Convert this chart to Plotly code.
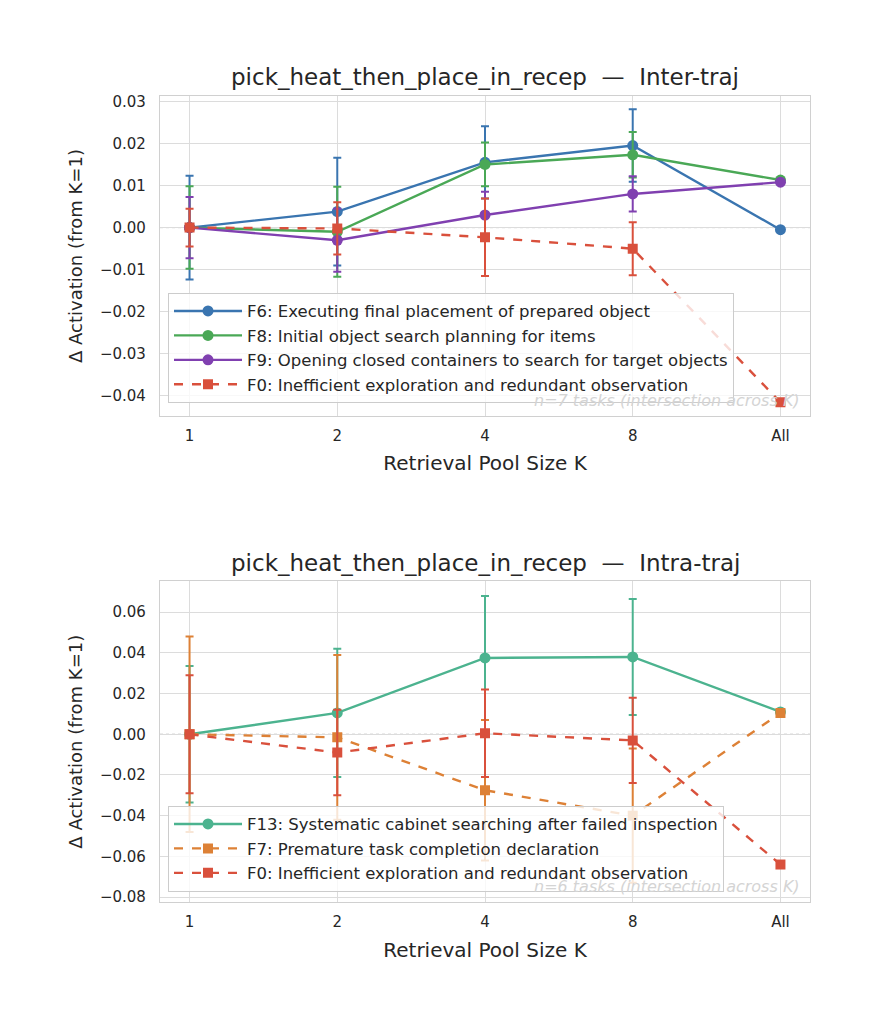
import plotly.graph_objects as go

K_LABELS = ["1", "2", "4", "8", "All"]

# Inter-traj
INTER_NAMES = [
    "F6: Executing final placement of prepared object",
    "F8: Initial object search planning for items",
    "F9: Opening closed containers to search for target objects",
    "F0: Inefficient exploration and redundant observation",
]
F6_inter = [0.0, 0.0038, 0.0155, 0.0195, -0.0005]
F6_inter_err = [0.0123, 0.0128, 0.0086, 0.0086, None]
F8_inter = [0.0, -0.001, 0.015, 0.0173, 0.0113]
F8_inter_err = [0.0098, 0.0107, 0.0052, 0.0054, None]
F9_inter = [0.0, -0.003, 0.003, 0.008, 0.0108]
F9_inter_err = [0.0073, 0.0075, 0.0055, 0.0042, None]
F0_inter = [0.0, -0.0002, -0.0023, -0.005, -0.0415]
F0_inter_err = [0.0045, 0.0062, 0.0092, 0.0063, None]

# Intra-traj
INTRA_NAMES = [
    "F13: Systematic cabinet searching after failed inspection",
    "F7: Premature task completion declaration",
    "F0: Inefficient exploration and redundant observation",
]
F13_intra = [0.0, 0.0105, 0.0375, 0.038, 0.011]
F13_intra_err = [0.0335, 0.0315, 0.0305, 0.0285, None]
F7_intra = [0.0, -0.0015, -0.0275, -0.040, 0.0105]
F7_intra_err = [0.048, 0.0405, 0.0345, 0.033, None]
F0_intra = [0.0, -0.009, 0.0005, -0.003, -0.064]
F0_intra_err = [0.029, 0.021, 0.0215, 0.021, None]

BLUE = "#3a75b0"
GREEN = "#4aa856"
PURPLE = "#8040b0"
RED = "#d9503c"
TEAL = "#4cb38f"
ORANGE = "#dd8136"

fig = go.Figure()


def add_series(y, err, name, color, dashed, xa, ya, legend):
    errs = [e if e is not None else 0 for e in err]
    fig.add_trace(go.Scatter(
        x=K_LABELS, y=y, name=name, mode="lines+markers",
        line=dict(color=color, width=2.4, dash="dash" if dashed else "solid"),
        marker=dict(color=color, size=11 if not dashed else 10,
                    symbol="square" if dashed else "circle"),
        error_y=dict(type="data", array=errs, visible=True, color=color,
                     thickness=2, width=4),
        xaxis=xa, yaxis=ya, legend=legend,
    ))


add_series(F6_inter, F6_inter_err, INTER_NAMES[0], BLUE, False, "x", "y", "legend")
add_series(F8_inter, F8_inter_err, INTER_NAMES[1], GREEN, False, "x", "y", "legend")
add_series(F9_inter, F9_inter_err, INTER_NAMES[2], PURPLE, False, "x", "y", "legend")
add_series(F0_inter, F0_inter_err, INTER_NAMES[3], RED, True, "x", "y", "legend")

add_series(F13_intra, F13_intra_err, INTRA_NAMES[0], TEAL, False, "x2", "y2", "legend2")
add_series(F7_intra, F7_intra_err, INTRA_NAMES[1], ORANGE, True, "x2", "y2", "legend2")
add_series(F0_intra, F0_intra_err, INTRA_NAMES[2], RED, True, "x2", "y2", "legend2")

W, H = 874, 1028
XD = [160 / W, 810 / W]
Y1 = [(H - 415) / H, (H - 93) / H]
Y2 = [(H - 905) / H, (H - 582) / H]

font = "DejaVu Sans, Liberation Sans, sans-serif"
axis_common = dict(
    showgrid=True, gridcolor="#dcdcdc", gridwidth=1,
    showline=True, linecolor="#d0d0d0", linewidth=1.2, mirror=True,
    zeroline=False, ticks="", tickfont=dict(size=15, color="#262626"),
)
xcommon = dict(type="category", range=[-0.2, 4.2], ticklabelstandoff=6,
               title=dict(text="Retrieval Pool Size K", font=dict(size=20), standoff=12),
               **axis_common)
ycommon = dict(tickformat=".2f", ticklabelstandoff=10,
               title=dict(text="Δ Activation (from K=1)", font=dict(size=18), standoff=12),
               **axis_common)

leg_common = dict(xanchor="left", yanchor="top",
                  bgcolor="rgba(255,255,255,0.8)", bordercolor="#cccccc", borderwidth=1,
                  font=dict(size=16.5, color="#262626"), itemwidth=68, tracegroupgap=0)

fig.update_layout(
    width=W, height=H, margin=dict(l=0, r=0, t=0, b=0),
    paper_bgcolor="white", plot_bgcolor="white",
    font=dict(family=font, color="#262626"),
    showlegend=True,
    xaxis=dict(domain=XD, anchor="y", **xcommon),
    yaxis=dict(domain=Y1, anchor="x", range=[-0.0447, 0.0312], dtick=0.01, **ycommon),
    xaxis2=dict(domain=XD, anchor="y2", **xcommon),
    yaxis2=dict(domain=Y2, anchor="x2", range=[-0.0824, 0.0751], dtick=0.02, **ycommon),
    legend=dict(x=168 / W, y=(H - 291) / H, **leg_common),
    legend2=dict(x=168 / W, y=(H - 808) / H, **leg_common),
)

for yref, xref in [("y", "x"), ("y2", "x2")]:
    fig.add_shape(type="line", xref=f"{xref} domain", yref=yref, x0=0, x1=1, y0=0, y1=0,
                  line=dict(color="#a0a0a0", width=1, dash="dot"), layer="below")

titles = ["pick_heat_then_place_in_recep  —  Inter-traj",
          "pick_heat_then_place_in_recep  —  Intra-traj"]
for t, ypix in zip(titles, [74, 563]):
    fig.add_annotation(text=t, x=(XD[0] + XD[1]) / 2, y=(H - ypix) / H, xref="paper", yref="paper",
                       showarrow=False, font=dict(size=23, color="#262626"),
                       xanchor="center", yanchor="middle")

notes = ["<i>n=7 tasks (intersection across K)</i>", "<i>n=6 tasks (intersection across K)</i>"]
for n, ypix in zip(notes, [400, 889]):
    fig.add_annotation(text=n, x=XD[1] - 8 / W, y=(H - ypix) / H, xref="paper", yref="paper",
                       showarrow=False, font=dict(size=16, color="#d4d4d4"),
                       xanchor="right", yanchor="middle")

fig.write_html("out.html")
